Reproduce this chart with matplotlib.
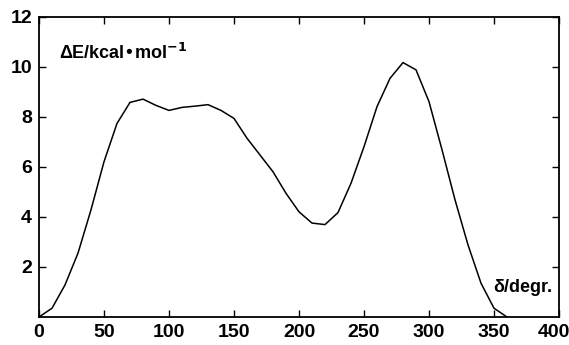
import matplotlib.pyplot as plt
import matplotlib.transforms as mtransforms
import numpy as np

plt.rcParams['font.family'] = ['Liberation Sans', 'DejaVu Sans']
plt.rcParams['font.weight'] = 'bold'

# torsion angle (deg) and relative energy (kcal/mol)
delta = np.arange(0, 370, 10)
energy = [0.0, 0.35, 1.28, 2.55, 4.28, 6.2, 7.73, 8.57, 8.7, 8.45,
          8.25, 8.37, 8.42, 8.48, 8.25, 7.93, 7.14, 6.47, 5.8, 4.94,
          4.2, 3.75, 3.69, 4.17, 5.34, 6.8, 8.4, 9.53, 10.16, 9.87,
          8.6, 6.68, 4.68, 2.88, 1.35, 0.35, 0.0]

xticks = [0, 50, 100, 150, 200, 250, 300, 350, 400]
yticks = [2, 4, 6, 8, 10, 12]

fig = plt.figure(figsize=(5.69, 3.45), dpi=100)
ax = fig.add_axes([39 / 569, 1 - 317 / 345, 520 / 569, 300.5 / 345])

ax.plot(delta, energy, color='black', lw=1.1)

ax.set_xlim(0, 400)
ax.set_ylim(0, 12)
ax.set_xticks(xticks)
ax.set_yticks(yticks)
ax.tick_params(direction='in', length=5, width=1, top=True, right=True,
               labelsize=14, pad=5)
for lbl in ax.get_xticklabels() + ax.get_yticklabels():
    lbl.set_fontweight('bold')
# nudge the last x label so it stays inside the figure
last = ax.get_xticklabels()[-1]
last.set_transform(last.get_transform()
                   + mtransforms.ScaledTranslation(-4 / 72, 0, fig.dpi_scale_trans))
for s in ax.spines.values():
    s.set_linewidth(1.3)

ax.text(0.038, 0.88, r'ΔE/kcal•mol$^{\mathbf{-1}}$', transform=ax.transAxes,
        fontsize=13, fontweight='bold', ha='left', va='center')
ax.text(0.988, 0.097, 'δ/degr.', transform=ax.transAxes,
        fontsize=13, fontweight='bold', ha='right', va='center')

fig.savefig('out.png', dpi=100)
